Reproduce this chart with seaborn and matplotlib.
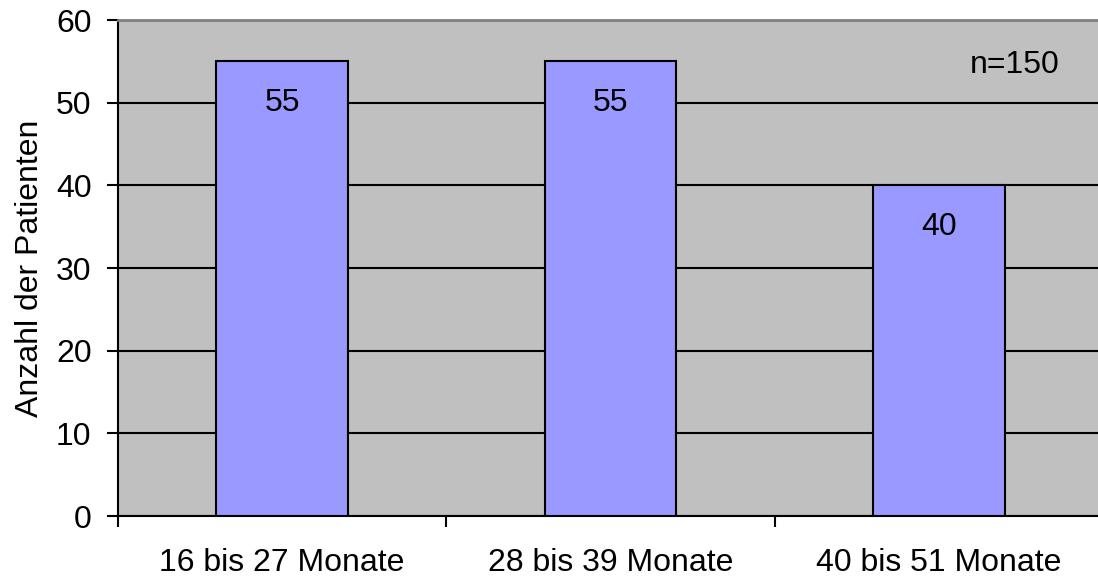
import matplotlib
matplotlib.use("Agg")
import matplotlib.pyplot as plt
import seaborn as sns
import pandas as pd

categories = ["16 bis 27 Monate", "28 bis 39 Monate", "40 bis 51 Monate"]
patients = [55, 55, 40]
y_ticks = [0, 10, 20, 30, 40, 50, 60]
note = "n=150"

sns.set_theme(style="white")
plt.rcParams["font.family"] = ["Liberation Sans", "DejaVu Sans"]

df = pd.DataFrame({"Kategorie": categories, "Anzahl": patients})

fig = plt.figure(figsize=(10.98, 5.81), dpi=100)
ax = fig.add_axes([118 / 1098, 1 - 516 / 581, 985 / 1098, 496 / 581])
ax.set_facecolor("#C0C0C0")

sns.barplot(data=df, x="Kategorie", y="Anzahl", ax=ax, color="#9999FF",
            saturation=1, width=0.4, edgecolor="black", linewidth=1.5, zorder=3)

ax.set_xlim(-0.5, 2.5)
ax.set_ylim(0, 60)
ax.set_yticks(y_ticks)
ax.set_axisbelow(True)
ax.yaxis.grid(True, color="black", linewidth=1.5)
ax.xaxis.grid(False)

# category boundaries carry the tick marks, centres carry the labels
ax.set_xticks([0, 1, 2])
ax.set_xticks([-0.5, 0.5, 1.5, 2.5], minor=True)
ax.tick_params(axis="x", which="major", length=0, pad=23, labelsize=23, colors="black")
ax.tick_params(axis="x", which="minor", length=8, width=1.5, direction="out",
               color="black", bottom=True)
ax.tick_params(axis="y", length=8, width=1.5, direction="out", color="black",
               left=True, pad=11, labelsize=23, labelcolor="black")

ax.set_xlabel("")
ax.set_ylabel("Anzahl der Patienten", fontsize=23, color="black", labelpad=8)

for side in ["left", "bottom"]:
    ax.spines[side].set_color("black")
    ax.spines[side].set_linewidth(1.5)
ax.spines["right"].set_visible(False)
ax.spines["top"].set_color("#808080")
ax.spines["top"].set_linewidth(2)
ax.spines["top"].set_zorder(4)

for i, v in enumerate(patients):
    ax.annotate(f"{v}", xy=(i, v), xytext=(0, -30), textcoords="offset points",
                ha="center", va="center", fontsize=23, color="black", zorder=5)

ax.text(0.91, 0.91, note, transform=ax.transAxes, ha="center", va="center",
        fontsize=23, color="black")

fig.savefig("out.png", dpi=100)
